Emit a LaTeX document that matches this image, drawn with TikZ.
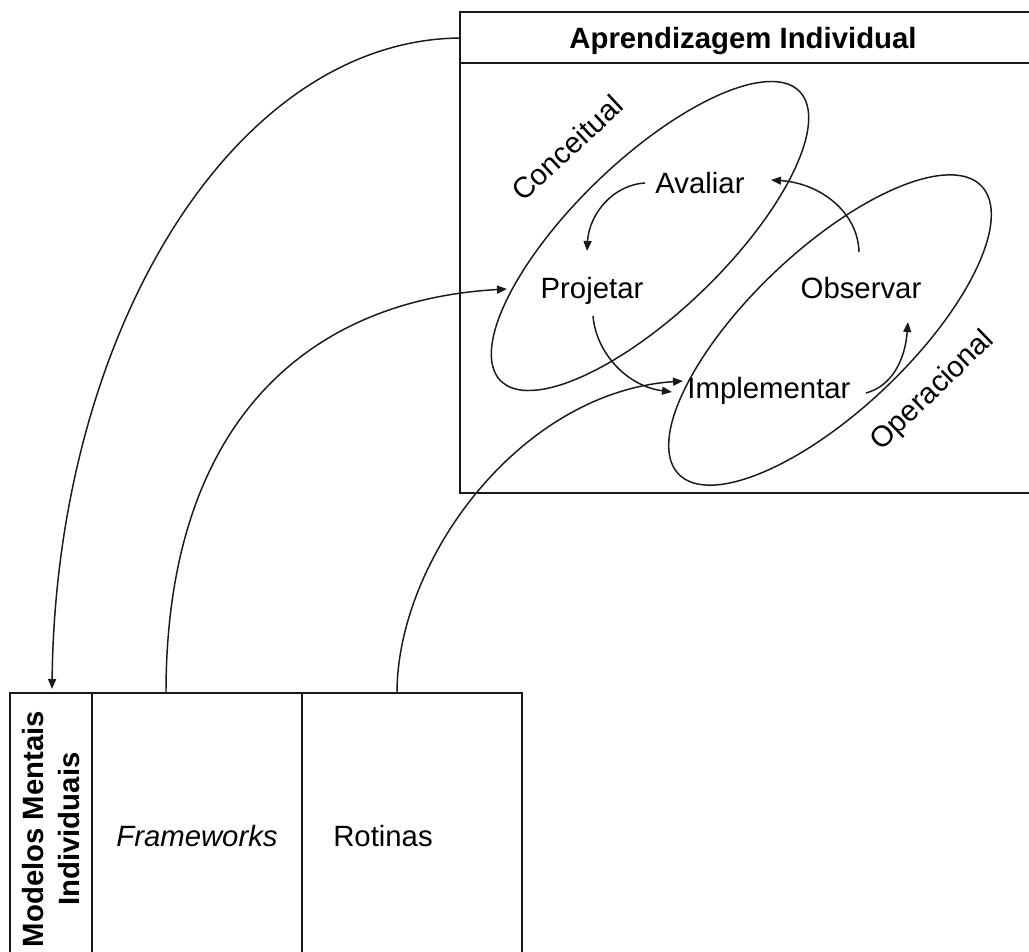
\documentclass[tikz,border=0pt]{standalone}
\usepackage{fontspec}
\setmainfont{Liberation Sans}
\usetikzlibrary{arrows.meta}
\begin{document}
\begin{tikzpicture}[x=0.75pt,y=-0.75pt,
  curve/.style={line width=1.1pt, black!90},
  arr/.style={curve, -{Triangle[length=7.5pt,width=6pt]}},
  boxline/.style={line width=1.4pt, black!90},
  lbl/.style={font=\fontsize{22}{26}\selectfont, inner sep=0pt},
  blbl/.style={font=\fontsize{22}{26}\selectfont\bfseries, inner sep=0pt}]
\useasboundingbox (0,0) rectangle (1029,951);
\clip (0,0) rectangle (1029,951);

% Aprendizagem Individual box
\draw[boxline] (460,12) rectangle (1045,493);
\draw[boxline] (460,63) -- (1045,63);
\node[blbl, anchor=base] (title) at (743,48) {Aprendizagem Individual};

% ellipses
\draw[curve, rotate around={44:(650,236)}] (650,236) ellipse [x radius=208, y radius=76];
\draw[curve, rotate around={43.5:(830,330)}] (830,330) ellipse [x radius=209, y radius=80];
\node[lbl, rotate=43] (conc) at (567,148) {Conceitual};
\node[lbl, rotate=44] (oper) at (933,391) {Operacional};

% stage nodes
\node[lbl, anchor=base] (av) at (700,193) {Avaliar};
\node[lbl, anchor=base] (pr) at (592,298) {Projetar};
\node[lbl, anchor=base] (ob) at (861,298) {Observar};
\node[lbl, anchor=base] (im) at (769,398) {Implementar};

% cycle arrows
\coordinate (avs) at (645,183);
\coordinate (pre) at (587,251);
\coordinate (prs) at (593,316);
\coordinate (ime) at (672,392);
\coordinate (ims) at (866,393);
\coordinate (obe) at (908,322);
\coordinate (obs) at (859,252);
\coordinate (ave) at (771,180);
\draw[arr] (avs) .. controls (612,185) and (589,215) .. (pre);
\draw[arr] (prs) .. controls (596,352) and (626,386) .. (ime);
\draw[arr] (ims) .. controls (892,386) and (905,360) .. (obe);
\draw[arr] (obs) .. controls (858,212) and (820,183) .. (ave);

% lower box
\draw[boxline] (10,693) rectangle (522,970);
\draw[boxline] (92,693) -- (92,970);
\draw[boxline] (302,693) -- (302,970);
\node[blbl, rotate=90, align=center, font=\fontsize{22}{27}\selectfont\bfseries] (mm) at (51,829) {Modelos Mentais\\Individuais};
\node[lbl, anchor=base, font=\fontsize{22}{26}\selectfont\itshape] (fw) at (197,846) {Frameworks};
\node[lbl, anchor=base] (rt) at (383,846) {Rotinas};

% long connectors
\coordinate (aiw) at (460,38);
\coordinate (mmtop) at (52,689);
\coordinate (fwtop) at (166,693);
\coordinate (pin) at (507,289);
\coordinate (rttop) at (397,693);
\coordinate (iin) at (683,381);
\draw[arr] (aiw) .. controls (235,40) and (56,330) .. (mmtop);
\draw[arr] (fwtop) .. controls (166,420) and (310,300) .. (pin);
\draw[arr] (rttop) .. controls (397,560) and (520,392) .. (iin);
\end{tikzpicture}
\end{document}
